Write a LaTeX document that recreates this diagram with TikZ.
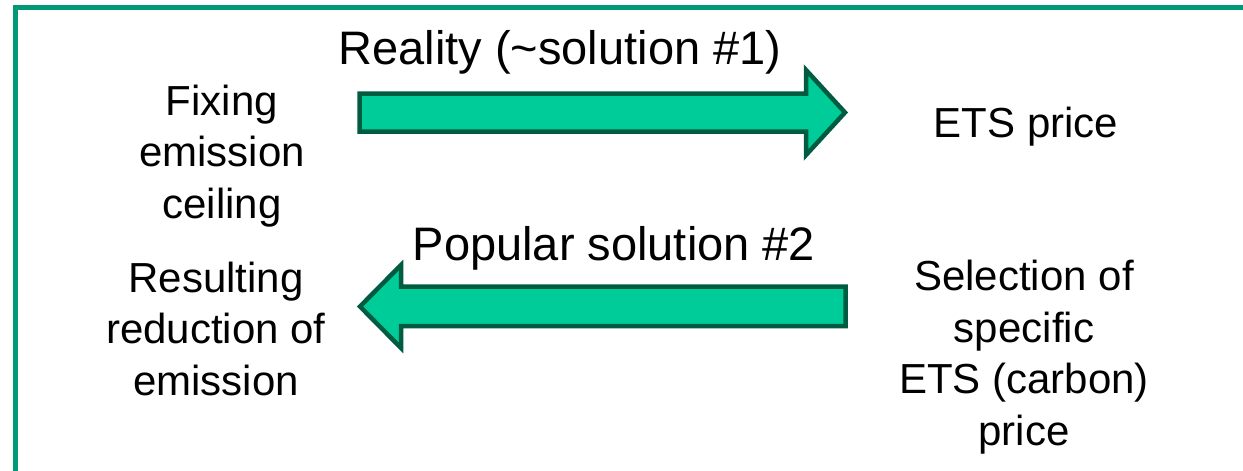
\documentclass[tikz,border=0pt]{standalone}
\usepackage{fontspec}
\setmainfont{Liberation Sans}
\definecolor{framegreen}{HTML}{009977}
\definecolor{arrowfill}{HTML}{00CC99}
\definecolor{arrowline}{HTML}{005C40}
\begin{document}
\begin{tikzpicture}[x=1pt,y=-1pt,
  txt/.style={align=center, inner sep=0pt, font=\fontsize{42}{51.5}\selectfont},
  ttl/.style={inner sep=0pt, font=\fontsize{47}{56}\selectfont},
  blockarrow/.style={fill=arrowfill, draw=arrowline, line width=4.5pt, line join=miter},
  frameline/.style={draw=framegreen, line width=5pt}]
\useasboundingbox (0,0) rectangle (1243,471);
\clip (0,0) rectangle (1243,471);
% open frame: left and top sides only
\draw[frameline] (15.5,500) -- (15.5,7.5) -- (1300,7.5);

% texts (anchored at the baseline of their last line)
\node[txt, anchor=base] (ceiling) at (222,218) {Fixing\\emission\\ceiling};
\node[txt, anchor=base] (reduction) at (216,395) {Resulting\\reduction of\\emission};
\node[txt, anchor=base] (ets) at (1026,137) {ETS price};
\node[txt, anchor=base] (selection) at (1024,445) {Selection of\\specific\\ETS (carbon)\\price};
\node[ttl, anchor=base] (reality) at (560,64) {Reality (\textasciitilde solution \#1)};
\node[ttl, anchor=base] (popular) at (614,260) {Popular solution \#2};

% block arrows
\draw[blockarrow] (359.5,93.5) -- (806,93.5) -- (806,70) -- (845,112.5)
  -- (806,155) -- (806,131.5) -- (359.5,131.5) -- cycle;
\draw[blockarrow] (845.5,286.5) -- (401,286.5) -- (401,265) -- (360,306.5)
  -- (401,348) -- (401,326) -- (845.5,326) -- cycle;
\end{tikzpicture}
\end{document}
